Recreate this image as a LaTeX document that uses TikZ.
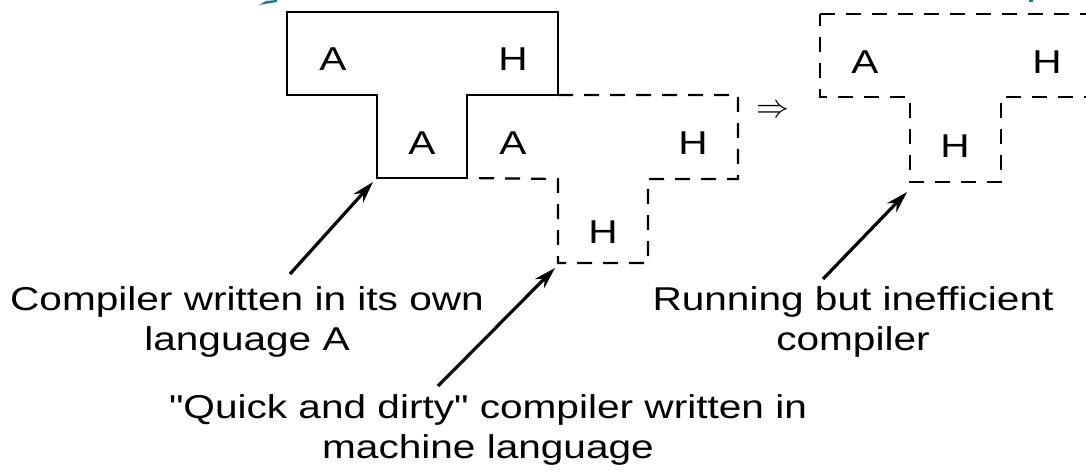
\documentclass[tikz,border=0pt]{standalone}
\usepackage{fontspec}
\usetikzlibrary{arrows.meta}
\newfontfamily\diagfont{Liberation Sans}[FakeStretch=1.23]
\definecolor{slideteal}{RGB}{24,128,128}

\begin{document}
\begin{tikzpicture}[x=1pt,y=-1pt,
		tline/.style={line width=2.2pt},
		tdash/.style={line width=2.2pt,dash pattern=on 15pt off 11pt},
		tletter/.style={font=\diagfont\fontsize{33}{40}\selectfont,inner sep=0pt},
		caption/.style={font=\diagfont\fontsize{33}{40}\selectfont,inner sep=0pt,align=center,anchor=north},
		pointer/.style={line width=3.2pt,-{Stealth[length=22pt,width=13pt]}}]
		\useasboundingbox (0,0) rectangle (1086,473);
		\fill[slideteal] (259,5) -- (266,1) -- (277,0) -- (277,2) -- cycle;
		\fill[slideteal] (1029,0) rectangle (1033,2);
		\coordinate (S1) at (287,12);
		\coordinate (S2) at (558,12);
		\coordinate (S3) at (558,95);
		\coordinate (S4) at (467,95);
		\coordinate (S5) at (467,178);
		\coordinate (S6) at (377,178);
		\coordinate (S7) at (377,95);
		\coordinate (S8) at (287,95);
		\coordinate (Q1) at (738,95);
		\coordinate (Q2) at (738,179);
		\coordinate (Q3) at (648,179);
		\coordinate (Q4) at (648,263);
		\coordinate (Q5) at (558,263);
		\coordinate (Q6) at (558,179);
		\coordinate (R1) at (820,14);
		\coordinate (R2) at (1087,14);
		\coordinate (R3) at (1087,97);
		\coordinate (R4) at (1001,97);
		\coordinate (R5) at (1001,182);
		\coordinate (R6) at (910,182);
		\coordinate (R7) at (910,97);
		\coordinate (R8) at (820,97);
		\draw[tline] (S1) -- (S2) -- (S3) -- (S4) -- (S5) -- (S6) -- (S7) -- (S8) -- cycle;
		\draw[tdash] (S3) -- (Q1) -- (Q2) -- (Q3) -- (Q4) -- (Q5) -- (Q6) -- (S5);
		\draw[tdash] (R1) -- (R2) -- (R3) -- (R4) -- (R5) -- (R6) -- (R7) -- (R8) -- cycle;
		\node[tletter] (srcA) at (333,59) {A};
		\node[tletter] (srcH) at (513,59) {H};
		\node[tletter] (srcI) at (422,143) {A};
		\node[tletter] (qdA) at (513,143) {A};
		\node[tletter] (qdH) at (693,143) {H};
		\node[tletter] (qdI) at (603,232) {H};
		\node[tletter] (runA) at (865,62) {A};
		\node[tletter] (runH) at (1047,62) {H};
		\node[tletter] (runI) at (955,146) {H};
		\node[scale=3.3,inner sep=0pt] (yields) at (773,111) {$\Rightarrow$};
		\node[caption] (own) at (247,286) {Compiler written in its own\\language A};
		\node[caption] (quick) at (488,394) {"Quick and dirty" compiler written in\\machine language};
		\node[caption] (slow) at (853,286) {Running but inefficient\\compiler};
		\coordinate (U1) at (290,274);
		\coordinate (V1) at (373,182);
		\coordinate (U2) at (438,386);
		\coordinate (V2) at (555,268);
		\coordinate (U3) at (823,279);
		\coordinate (V3) at (907,192);
		\draw[pointer] (U1) -- (V1);
		\draw[pointer] (U2) -- (V2);
		\draw[pointer] (U3) -- (V3);
	\end{tikzpicture}
\end{document}
